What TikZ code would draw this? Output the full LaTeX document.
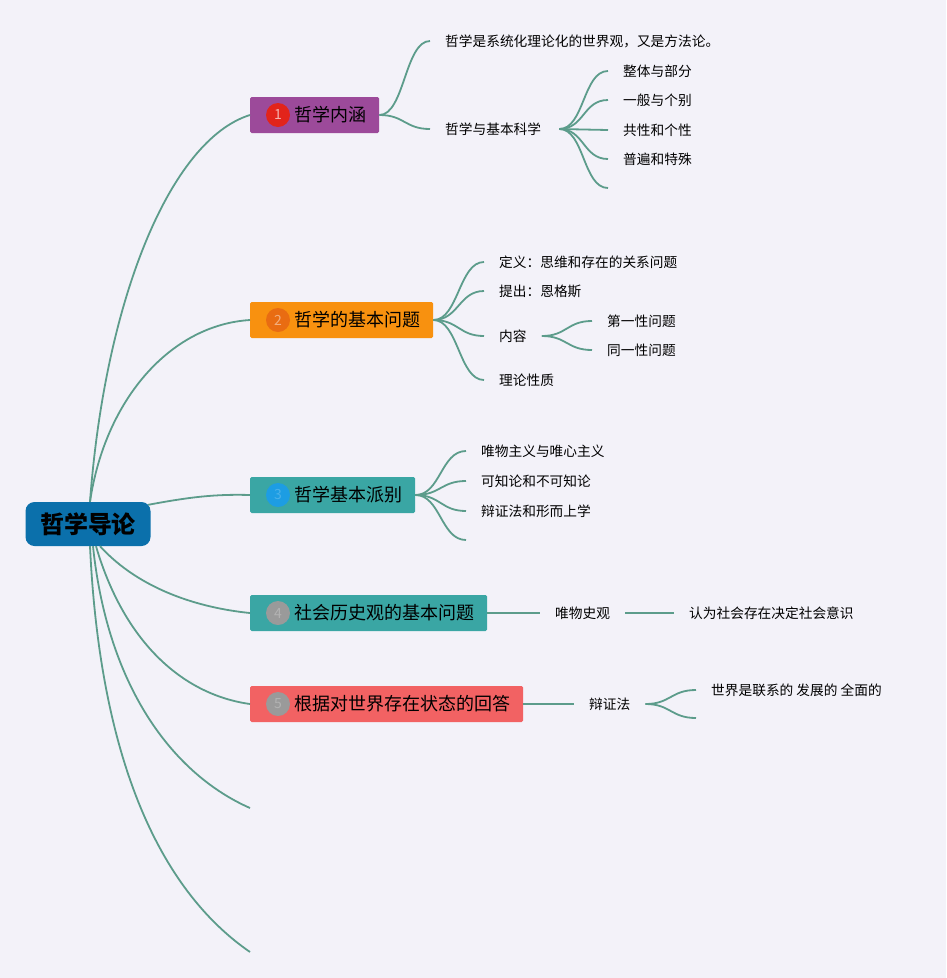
\documentclass[tikz,border=0pt]{standalone}
\usepackage{fontspec}
\setmainfont{Noto Sans CJK SC}
\definecolor{bgpaper}{HTML}{F3F2F9}
\definecolor{linkgreen}{HTML}{5C9C8B}
\definecolor{rootblue}{HTML}{0B70AB}
\definecolor{boxpurple}{HTML}{9C4A9A}
\definecolor{boxorange}{HTML}{F8910F}
\definecolor{boxteal}{HTML}{3AA6A4}
\definecolor{boxred}{HTML}{F26263}
\definecolor{dotred}{HTML}{E2241B}
\definecolor{dotorange}{HTML}{E96C12}
\definecolor{dotblue}{HTML}{1D9DE3}
\definecolor{dotgray}{HTML}{9A9A9A}
\begin{document}
\begin{tikzpicture}[x=1pt,y=-1pt,
    rootbox/.style={fill=rootblue,rounded corners=9pt,minimum width=125pt,minimum height=44pt,
      inner sep=0pt,font=\bfseries\fontsize{24}{24}\selectfont},
    branch/.style={anchor=west,minimum height=36pt,inner xsep=13pt,inner ysep=0pt,
      rounded corners=1.5pt,font=\fontsize{18}{18}\selectfont},
    numdot/.style={circle,minimum size=24pt,inner sep=0pt,font=\fontsize{14}{14}\selectfont},
    leaf/.style={anchor=west,inner xsep=15pt,inner ysep=2pt,font=\fontsize{13.7}{16}\selectfont},
    trunk/.style={draw=linkgreen,line width=1.8pt},
    twig/.style={draw=linkgreen,line width=1.8pt,
      to path={.. controls +(25,0) and +(-25,0) .. (\tikztotarget)}}]
  % paper
  \fill[bgpaper] (0,0) rectangle (946,978);

  % root
  \node[rootbox] (root) at (88,524) {哲学导论};

  % main branches
  \node[branch,fill=boxpurple] (b1) at (250,115) {\hspace*{31pt}哲学内涵};
  \node[branch,fill=boxorange] (b2) at (250,320) {\hspace*{31pt}哲学的基本问题};
  \node[branch,fill=boxteal] (b3) at (250,495) {\hspace*{31pt}哲学基本派别};
  \node[branch,fill=boxteal] (b4) at (250,613) {\hspace*{31pt}社会历史观的基本问题};
  \node[branch,fill=boxred] (b5) at (250,704) {\hspace*{31pt}根据对世界存在状态的回答};
  \node[numdot,fill=dotred,text=dotred!35!white] (n1) at ([xshift=28pt]b1.west) {1};
  \node[numdot,fill=dotorange,text=dotorange!55!white] (n2) at ([xshift=28pt]b2.west) {2};
  \node[numdot,fill=dotblue,text=dotblue!80!white] (n3) at ([xshift=28pt]b3.west) {3};
  \node[numdot,fill=dotgray,text=dotgray!75!white] (n4) at ([xshift=28pt]b4.west) {4};
  \node[numdot,fill=dotgray,text=dotgray!75!white] (n5) at ([xshift=28pt]b5.west) {5};
  \coordinate (b6) at (250,808);
  \coordinate (b7) at (250,952);

  % trunk lines
  \draw[trunk] ([shift={(2,0)}]root.north) .. controls (105,300) and (170,140) .. (b1.west);
  \draw[trunk] ([shift={(2,0)}]root.north) .. controls (105,400) and (170,325) .. (b2.west);
  \draw[trunk] ([shift={(-2.5,3)}]root.north east) .. controls (190,497) and (215,494) .. (b3.west);
  \draw[trunk] ([shift={(12,0)}]root.south) .. controls (140,590) and (200,608) .. (b4.west);
  \draw[trunk] ([shift={(8,0)}]root.south) .. controls (125,645) and (185,695) .. (b5.west);
  \draw[trunk] ([shift={(5,0)}]root.south) .. controls (108,690) and (175,775) .. (b6);
  \draw[trunk] ([shift={(2,0)}]root.south) .. controls (100,760) and (160,890) .. (b7);

  % branch 1
  \node[leaf] (l11) at (430,41) {哲学是系统化理论化的世界观，又是方法论。};
  \node[leaf] (l12) at (430,129) {哲学与基本科学};
  \node[leaf] (l121) at (608,71) {整体与部分};
  \node[leaf] (l122) at (608,100) {一般与个别};
  \node[leaf] (l123) at (608,130) {共性和个性};
  \node[leaf] (l124) at (608,159) {普遍和特殊};
  \coordinate (l125) at (608,188);
  \draw[twig] (b1.east) to (l11.west);
  \draw[twig] (b1.east) to (l12.west);
  \draw[twig] ([xshift=3pt]l12.east) to (l121.west);
  \draw[twig] ([xshift=3pt]l12.east) to (l122.west);
  \draw[twig] ([xshift=3pt]l12.east) to (l123.west);
  \draw[twig] ([xshift=3pt]l12.east) to (l124.west);
  \draw[twig] ([xshift=3pt]l12.east) to (l125);

  % branch 2
  \node[leaf] (l21) at (484,262) {定义：思维和存在的关系问题};
  \node[leaf] (l22) at (484,291) {提出：恩格斯};
  \node[leaf] (l23) at (484,336) {内容};
  \node[leaf] (l24) at (484,380) {理论性质};
  \node[leaf] (l231) at (592,321) {第一性问题};
  \node[leaf] (l232) at (592,350) {同一性问题};
  \draw[twig] (b2.east) to (l21.west);
  \draw[twig] (b2.east) to (l22.west);
  \draw[twig] (b2.east) to (l23.west);
  \draw[twig] (b2.east) to (l24.west);
  \draw[twig] (l23.east) to (l231.west);
  \draw[twig] (l23.east) to (l232.west);

  % branch 3
  \node[leaf] (l31) at (466,451) {唯物主义与唯心主义};
  \node[leaf] (l32) at (466,481) {可知论和不可知论};
  \node[leaf] (l33) at (466,511) {辩证法和形而上学};
  \coordinate (l34) at (466,540);
  \draw[twig] (b3.east) to (l31.west);
  \draw[twig] (b3.east) to (l32.west);
  \draw[twig] (b3.east) to (l33.west);
  \draw[twig] (b3.east) to (l34);

  % branch 4
  \node[leaf] (l41) at (540,613) {唯物史观};
  \node[leaf] (l42) at (674,613) {认为社会存在决定社会意识};
  \draw[trunk] (b4.east) -- (l41.west);
  \draw[trunk] (l41.east) -- (l42.west);

  % branch 5
  \node[leaf] (l51) at (574,704) {辩证法};
  \node[leaf] (l52) at (696,690) {世界是联系的 发展的 全面的};
  \coordinate (l53) at (696,718);
  \draw[trunk] (b5.east) -- (l51.west);
  \draw[twig] (l51.east) to (l52.west);
  \draw[twig] (l51.east) to (l53);
\end{tikzpicture}
\end{document}
